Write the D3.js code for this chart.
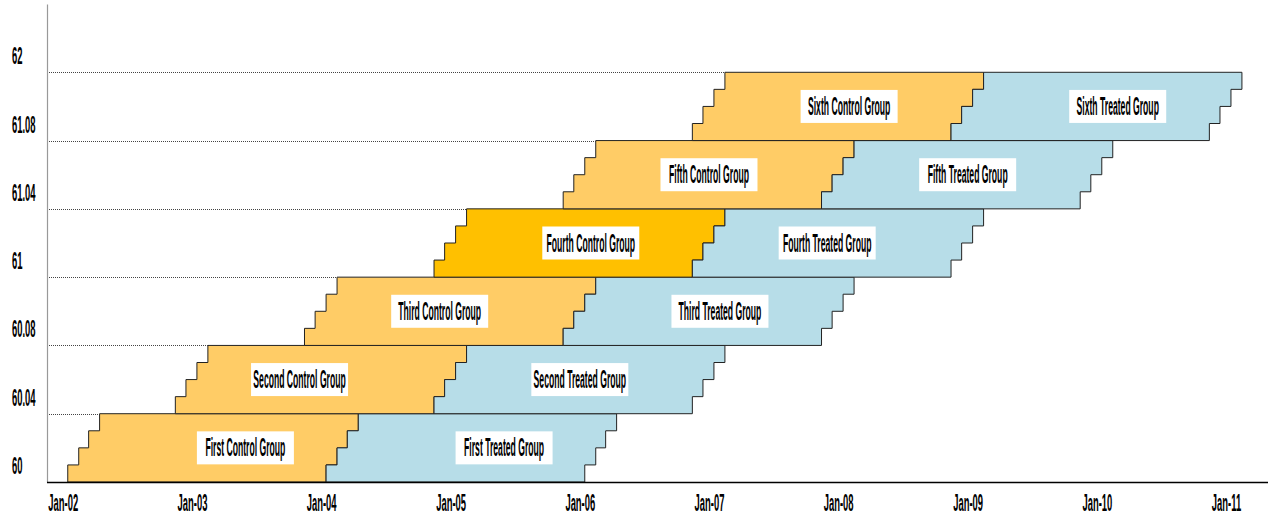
<!DOCTYPE html>
<html>
<head>
<meta charset="utf-8">
<script src="https://cdn.jsdelivr.net/npm/d3@7"></script>
<style>
body { margin: 0; background: #fff; }
text { font-family: "Liberation Sans", Arial, sans-serif; font-weight: bold; fill: #000; }
</style>
</head>
<body>
<script>
const svgWidth = 1268
const svgHeight = 520

// data
const groupNames = ["First", "Second", "Third", "Fourth", "Fifth", "Sixth"]
const controlStarts = ["2002-01-15", "2002-11-15", "2003-11-15", "2004-11-15", "2005-11-15", "2006-11-15"]
const controlMonths = 24
const treatedMonths = 24
const cohortsPerGroup = 4
const controlLabelAt = ["2003-06", "2003-11", "2004-12", "2006-02", "2007-01", "2008-02"]
const treatedLabelAt = ["2005-06", "2006-01", "2007-02", "2007-12", "2009-01", "2010-03"]
const yTickLabels = ["60", "60.04", "60.08", "61", "61.04", "61.08", "62"]
const xTickYears = ["2002", "2003", "2004", "2005", "2006", "2007", "2008", "2009", "2010", "2011"]

const colorControl = "#FFCC66"
const colorHighlight = "#FFC000"
const colorTreated = "#B7DDE8"
const highlightGroup = "Fourth"

const axisX = 47
const plotTop = 4
const plotBottom = 482

const parseDay = d3.timeParse("%Y-%m-%d")
const parseMonth = d3.timeParse("%Y-%m")
const parseYear = d3.timeParse("%Y")
const formatTick = d3.timeFormat("%b-%y")

const x = d3.scaleTime()
    .domain([parseYear("2002"), parseYear("2011")])
    .range([62.8, 1226])

const y = d3.scaleLinear()
    .domain([0, yTickLabels.length])
    .range([plotBottom, plotTop])

const svg = d3.select("body").append("svg")
    .attr("width", svgWidth)
    .attr("height", svgHeight)

// staircase polygon: each cohort starts one month after the previous
function stairs(start, months, k) {
    const left = [], right = []
    for (let j = 0; j < cohortsPerGroup; j++) {
        const x0 = d3.timeMonth.offset(start, j)
        const x1 = d3.timeMonth.offset(start, j + months)
        left.push([x0, k + j / cohortsPerGroup], [x0, k + (j + 1) / cohortsPerGroup])
        right.push([x1, k + j / cohortsPerGroup], [x1, k + (j + 1) / cohortsPerGroup])
    }
    return left.concat(right.reverse())
}

const line = d3.line()
    .x(d => x(d[0]))
    .y(d => y(d[1]))

const shapes = []
groupNames.forEach((name, k) => {
    const cStart = parseDay(controlStarts[k])
    const tStart = d3.timeMonth.offset(cStart, controlMonths)
    shapes.push({
        pts: stairs(cStart, controlMonths, k),
        fill: name === highlightGroup ? colorHighlight : colorControl,
        label: name + " Control Group",
        at: parseMonth(controlLabelAt[k]),
        k
    })
    shapes.push({
        pts: stairs(tStart, treatedMonths, k),
        fill: colorTreated,
        label: name + " Treated Group",
        at: parseMonth(treatedLabelAt[k]),
        k
    })
})

// dotted lines from the axis to the top-left corner of each group
svg.append("g")
    .selectAll("line")
    .data(controlStarts)
    .join("line")
    .attr("x1", axisX)
    .attr("x2", d => x(d3.timeMonth.offset(parseDay(d), cohortsPerGroup - 1)))
    .attr("y1", (d, i) => Math.round(y(i + 1)) + 0.5)
    .attr("y2", (d, i) => Math.round(y(i + 1)) + 0.5)
    .attr("stroke", "#444")
    .attr("stroke-width", 1)
    .attr("stroke-dasharray", "1,1")

svg.append("g")
    .selectAll("path")
    .data(shapes)
    .join("path")
    .attr("d", d => line(d.pts) + "Z")
    .attr("fill", d => d.fill)
    .attr("stroke", "#222")
    .attr("stroke-width", 1)

// labels in white boxes
const labels = svg.append("g")
    .selectAll("g")
    .data(shapes)
    .join("g")
    .attr("transform", d => `translate(${x(d.at)}, ${y(d.k + 0.5)})`)

labels.append("rect")
    .attr("x", -48.5)
    .attr("y", -16.5)
    .attr("width", 97)
    .attr("height", 33)
    .attr("fill", "#fff")

labels.append("text")
    .attr("text-anchor", "middle")
    .attr("font-size", 25)
    .attr("y", 8.5)
    .attr("transform", "scale(0.345,1)")
    .text(d => d.label)

// y axis
const yAxis = d3.axisLeft(y)
    .tickValues(d3.range(yTickLabels.length))
    .tickFormat(i => yTickLabels[i])
    .tickSize(0)
    .tickSizeOuter(0)

const yG = svg.append("g")
    .attr("transform", `translate(${axisX}, 0)`)
    .call(yAxis)

yG.select(".domain").attr("stroke", "#999").attr("stroke-width", 1.2)
yG.selectAll(".tick text")
    .attr("x", 0)
    .attr("dy", null)
    .attr("y", -8.5)
    .attr("text-anchor", "start")
    .attr("font-size", 23)
    .attr("font-family", null)
    .attr("transform", "translate(-35,0) scale(0.41,1)")

// x axis
const xAxis = d3.axisBottom(x)
    .tickValues(xTickYears.map(parseYear))
    .tickFormat(formatTick)
    .tickSize(0)

const xG = svg.append("g")
    .attr("transform", `translate(0, ${plotBottom})`)
    .call(xAxis)

xG.select(".domain").remove()
xG.selectAll(".tick text")
    .attr("dy", null)
    .attr("y", 29)
    .attr("font-size", 23)
    .attr("font-family", null)
    .attr("transform", "scale(0.41,1)")

svg.append("line")
    .attr("x1", axisX)
    .attr("x2", svgWidth)
    .attr("y1", plotBottom + 0.5)
    .attr("y2", plotBottom + 0.5)
    .attr("stroke", "#000")
    .attr("stroke-width", 1.6)
</script>
</body>
</html>
